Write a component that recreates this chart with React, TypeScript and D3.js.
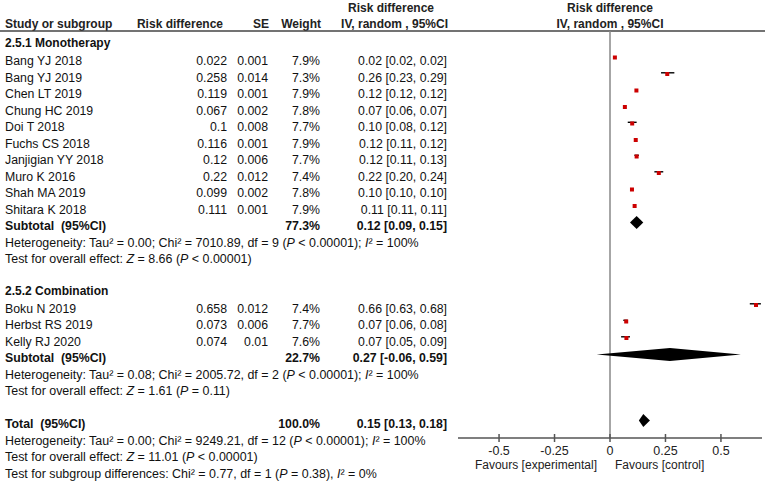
import React from "react";
import * as d3 from "d3";

const monoNames = ["Bang YJ 2018", "Bang YJ 2019", "Chen LT 2019", "Chung HC 2019", "Doi T 2018", "Fuchs CS 2018", "Janjigian YY 2018", "Muro K 2016", "Shah MA 2019", "Shitara K 2018"];
const monoRD = ["0.022", "0.258", "0.119", "0.067", "0.1", "0.116", "0.12", "0.22", "0.099", "0.111"];
const monoSE = ["0.001", "0.014", "0.001", "0.002", "0.008", "0.001", "0.006", "0.012", "0.002", "0.001"];
const monoWeight = [7.9, 7.3, 7.9, 7.8, 7.7, 7.9, 7.7, 7.4, 7.8, 7.9];
const monoEst = [0.02, 0.26, 0.12, 0.07, 0.10, 0.12, 0.12, 0.22, 0.10, 0.11];
const monoLo = [0.02, 0.23, 0.12, 0.06, 0.08, 0.11, 0.11, 0.20, 0.10, 0.11];
const monoHi = [0.02, 0.29, 0.12, 0.07, 0.12, 0.12, 0.13, 0.24, 0.10, 0.11];

const comboNames = ["Boku N 2019", "Herbst RS 2019", "Kelly RJ 2020"];
const comboRD = ["0.658", "0.073", "0.074"];
const comboSE = ["0.012", "0.006", "0.01"];
const comboWeight = [7.4, 7.7, 7.6];
const comboEst = [0.66, 0.07, 0.07];
const comboLo = [0.63, 0.06, 0.05];
const comboHi = [0.68, 0.08, 0.09];

// subtotal/total: [weight, est, lo, hi]
const monoSubtotal = [77.3, 0.12, 0.09, 0.15];
const comboSubtotal = [22.7, 0.27, -0.06, 0.59];
const overallTotal = [100.0, 0.15, 0.13, 0.18];

const axisTicks = [-0.5, -0.25, 0, 0.25, 0.5];
const axisTickLabels = ["-0.5", "-0.25", "0", "0.25", "0.5"];

const FONT = "'Liberation Sans', Arial, sans-serif";
const RED = "#cc0000";

const x = d3.scaleLinear().domain([-0.685, 0.685]).range([458, 762]);
const rowY = (n: number) => 65 + 16.5 * n;

const COL_RD = 227;
const COL_SE = 268;
const COL_W = 320;
const COL_CI = 447;
const AXIS_Y = 438;

const fmtCI = (e: number, l: number, h: number) =>
  `${e.toFixed(2)} [${l.toFixed(2)}, ${h.toFixed(2)}]`;

function Italic({ children }: { children: React.ReactNode }) {
  return <tspan fontStyle="italic">{children}</tspan>;
}

function StudyRows({ names, rd, se, wt, est, lo, hi, start }: any) {
  return (
    <g>
      {names.map((nm: string, i: number) => {
        const b = rowY(start + i);
        const my = b - 7.5;
        return (
          <g key={nm}>
            <text x={5} y={b}>{nm}</text>
            <text x={COL_RD} y={b} textAnchor="end">{rd[i]}</text>
            <text x={COL_SE} y={b} textAnchor="end">{se[i]}</text>
            <text x={COL_W} y={b} textAnchor="end">{wt[i].toFixed(1)}%</text>
            <text x={COL_CI} y={b} textAnchor="end">{fmtCI(est[i], lo[i], hi[i])}</text>
            {x(hi[i]) - x(lo[i]) > 4 && (
              <line x1={x(lo[i])} x2={x(hi[i])} y1={my - 1.2} y2={my - 1.2} stroke="#000" strokeWidth={1.4} />
            )}
            <rect x={x(+rd[i]) - 2} y={my - 2} width={4} height={4} fill={RED} />
          </g>
        );
      })}
    </g>
  );
}

function SummaryRow({ label, vals, n }: any) {
  const b = rowY(n);
  const cy = b - 7.5;
  const [w, e, l, h] = vals;
  const hh = 6.5;
  const pts = [
    [x(l), cy],
    [x(e), cy - hh],
    [x(h), cy],
    [x(e), cy + hh],
  ];
  return (
    <g fontWeight="bold" fontSize={12.3}>
      <text x={5} y={b} style={{ whiteSpace: "pre" }}>{label}</text>
      <text x={COL_W} y={b} textAnchor="end">{w.toFixed(1)}%</text>
      <text x={COL_CI} y={b} textAnchor="end">{fmtCI(e, l, h)}</text>
      <polygon points={pts.map((p) => p.join(",")).join(" ")} fill="#000" />
    </g>
  );
}

export default function App() {
  return (
    <svg
      width={765}
      height={489}
      style={{ position: "absolute", left: 0, top: 0, background: "#fff" }}
      fontFamily={FONT}
      fontSize={12.3}
      fill="#111"
    >
      <rect x={0} y={0} width={765} height={489} fill="#fff" />
      {/* headers */}
      <g fontWeight="bold" fontSize={12} fill="#222">
        <text x={5} y={28}>Study or subgroup</text>
        <text x={223} y={28} textAnchor="end">Risk difference</text>
        <text x={269} y={28} textAnchor="end">SE</text>
        <text x={321} y={28} textAnchor="end">Weight</text>
        <text x={391} y={12} textAnchor="middle">Risk difference</text>
        <text x={448} y={28} textAnchor="end">IV, random , 95%CI</text>
        <text x={x(0)} y={12} textAnchor="middle">Risk difference</text>
        <text x={x(0)} y={28} textAnchor="middle">IV, random , 95%CI</text>
      </g>
      <line x1={0} x2={765} y1={31} y2={31} stroke="#444" strokeWidth={1.5} />

      {/* zero line */}
      <line x1={x(0)} x2={x(0)} y1={31} y2={AXIS_Y} stroke="#888" strokeWidth={1.5} />

      {/* Monotherapy */}
      <text x={5} y={rowY(-1) - 1.5} fontWeight="bold" fontSize={12}>2.5.1 Monotherapy</text>
      <StudyRows names={monoNames} rd={monoRD} se={monoSE} wt={monoWeight} est={monoEst} lo={monoLo} hi={monoHi} start={0} />
      <SummaryRow label={"Subtotal  (95%CI)"} vals={monoSubtotal} n={10} />
      <g fontSize={12.45}>
        <text x={5} y={rowY(11)}>
          Heterogeneity: Tau² = 0.00; Chi² = 7010.89, df = 9 (<Italic>P</Italic> &lt; 0.00001); <Italic>I</Italic>² = 100%
        </text>
        <text x={5} y={rowY(12)}>
          Test for overall effect: <Italic>Z</Italic> = 8.66 (<Italic>P</Italic> &lt; 0.00001)
        </text>
      </g>

      {/* Combination */}
      <text x={5} y={rowY(14) - 1.5} fontWeight="bold" fontSize={12}>2.5.2 Combination</text>
      <StudyRows names={comboNames} rd={comboRD} se={comboSE} wt={comboWeight} est={comboEst} lo={comboLo} hi={comboHi} start={15} />
      <SummaryRow label={"Subtotal  (95%CI)"} vals={comboSubtotal} n={18} />
      <g fontSize={12.45}>
        <text x={5} y={rowY(19)}>
          Heterogeneity: Tau² = 0.08; Chi² = 2005.72, df = 2 (<Italic>P</Italic> &lt; 0.00001); <Italic>I</Italic>² = 100%
        </text>
        <text x={5} y={rowY(20)}>
          Test for overall effect: <Italic>Z</Italic> = 1.61 (<Italic>P</Italic> = 0.11)
        </text>
      </g>

      {/* Total */}
      <SummaryRow label={"Total  (95%CI)"} vals={overallTotal} n={22} />
      <g fontSize={12.45}>
        <text x={5} y={rowY(23)}>
          Heterogeneity: Tau² = 0.00; Chi² = 9249.21, df = 12 (<Italic>P</Italic> &lt; 0.00001); <Italic>I</Italic>² = 100%
        </text>
        <text x={5} y={rowY(24)}>
          Test for overall effect: <Italic>Z</Italic> = 11.01 (<Italic>P</Italic> &lt; 0.00001)
        </text>
        <text x={5} y={rowY(25)}>
          Test for subgroup differences: Chi² = 0.77, df = 1 (<Italic>P</Italic> = 0.38), <Italic>I</Italic>² = 0%
        </text>
      </g>

      {/* axis */}
      <line x1={x.range()[0]} x2={x.range()[1]} y1={AXIS_Y} y2={AXIS_Y} stroke="#555" strokeWidth={1.5} />
      {axisTicks.map((t, i) => (
        <g key={t}>
          <line x1={x(t)} x2={x(t)} y1={AXIS_Y - 4} y2={AXIS_Y + 4} stroke="#555" strokeWidth={1.5} />
          <text x={x(t)} y={455} textAnchor="middle" fontSize={12.5} fill="#222">{axisTickLabels[i]}</text>
        </g>
      ))}
      <text x={x(0) - 13} y={469} textAnchor="end" fontSize={12} fill="#222">Favours [experimental]</text>
      <text x={x(0) + 5} y={469} textAnchor="start" fontSize={12} fill="#222">Favours [control]</text>
    </svg>
  );
}
